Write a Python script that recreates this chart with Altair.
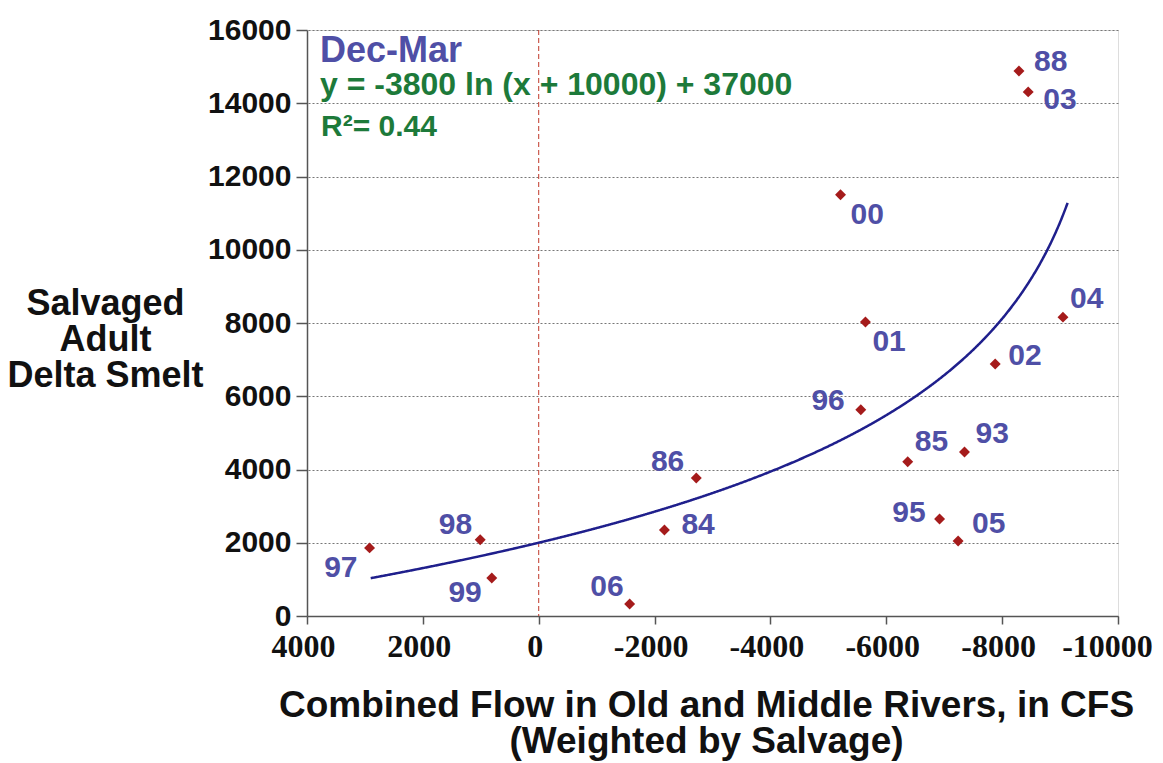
import altair as alt
import pandas as pd

# ---- data ----
years = ["88", "03", "00", "04", "01", "02", "96", "85", "93", "95", "05", "86", "84", "06", "98", "99", "97"]
flow = [-8290, -8450, -5210, -9050, -5640, -7880, -5560, -6370, -7350, -6920, -7240, -2720, -2170, -1570, 1010, 810, 2920]
salvage = [14880, 14310, 11500, 8160, 8030, 6880, 5630, 4210, 4480, 2650, 2050, 3770, 2350, 330, 2080, 1040, 1860]

# fitted curve shown on the chart: y = -3800 ln(x + 10000) + 37000
FIT_A = -3800
FIT_B = 10000
FIT_C = 37000
FIT_X_MIN = -9130
FIT_X_MAX = 2900

x_ticks = [4000, 2000, 0, -2000, -4000, -6000, -8000, -10000]
y_ticks = [0, 2000, 4000, 6000, 8000, 10000, 12000, 14000, 16000]

# label placement (pixel offsets from each point, alignment)
label_style = {
    "88": (15, -9, "left"), "03": (15, 8, "left"), "00": (10, 20, "left"),
    "04": (7, -18, "left"), "01": (7, 20, "left"), "02": (13, -8, "left"),
    "96": (-16, -9, "right"), "85": (7, -20, "left"), "93": (11, -18, "left"),
    "95": (-14, -6, "right"), "05": (14, -17, "left"), "86": (-12, -16, "right"),
    "84": (17, -5, "left"), "06": (-6, -17, "right"), "98": (-8, -15, "right"),
    "99": (-10, 15, "right"), "97": (-12, 20, "right"),
}

FONT = "Liberation Sans"
NARROW = "Liberation Sans Narrow"
LABEL_BLUE = "#4f4fa6"
GREEN = "#1d7a3a"
RED = "#a51b1b"
NAVY = "#1f1f8c"

df = pd.DataFrame({"year": years, "flow": flow, "salvage": salvage})

xscale = alt.Scale(domain=[-10000, 4000], reverse=True, nice=False, zero=False)
yscale = alt.Scale(domain=[0, 16000], nice=False)

xaxis = alt.Axis(
    values=x_ticks,
    labelExpr="datum.value < 0 ? '-' + format(-datum.value, 'd') : format(datum.value, 'd')",
    labelFont=NARROW, labelFontSize=32, labelFontWeight="bold",
    labelOffset={"condition": {"test": "datum.value < -9000", "value": -11}, "value": -4},
    labelColor="#111", labelPadding=7, tickSize=8, tickColor="#555", tickWidth=1.5,
    domainColor="#555", domainWidth=1.5, grid=False, labelFlush=False, labelOverlap=False,
    title=["Combined Flow in Old and Middle Rivers, in CFS", "(Weighted by Salvage)"],
    titleFont=FONT, titleFontSize=37, titleFontWeight="bold", titleColor="#111",
    titleLineHeight=36, titleBaseline="middle", titleY=89, titleX=399, titleAlign="center",
)
yaxis = alt.Axis(
    values=y_ticks, format="d", labelFont=FONT, labelFontSize=30, labelFontWeight="bold",
    labelColor="#111", labelPadding=5, tickSize=11, tickColor="#555", tickWidth=1.5,
    domainColor="#555", domainWidth=1.5, grid=True, gridColor="#777", gridDash=[2, 2],
    gridWidth=1, labelFlush=False,
    title=["Salvaged", "Adult", "Delta Smelt"], titleFont=FONT, titleFontSize=36,
    titleFontWeight="bold", titleColor="#111", titleAngle=0, titleAlign="center",
    titleBaseline="middle", titleLineHeight=36, titleX=-202, titleY=273,
)

base = alt.Chart(df)

points = base.mark_point(shape="diamond", filled=True, size=120, color=RED, opacity=1).encode(
    x=alt.X("flow:Q", scale=xscale, axis=xaxis),
    y=alt.Y("salvage:Q", scale=yscale, axis=yaxis),
)

zero_line = alt.Chart(pd.DataFrame({"z": [0]})).mark_rule(
    color="#c0392b", strokeDash=[5, 3], strokeWidth=1
).encode(x=alt.X("z:Q", scale=xscale))

curve = (
    alt.Chart(alt.sequence(FIT_X_MIN, FIT_X_MAX + 1, 10, as_="x"))
    .transform_calculate(y=f"{FIT_A} * log(datum.x + {FIT_B}) + {FIT_C}")
    .mark_line(color=NAVY, strokeWidth=2.5)
    .encode(x=alt.X("x:Q", scale=xscale), y=alt.Y("y:Q", scale=yscale), order="x:Q")
)

label_layers = []
for yr, (dx, dy, align) in label_style.items():
    label_layers.append(
        base.transform_filter(alt.datum.year == yr)
        .mark_text(font=FONT, fontSize=30, fontWeight="bold", color=LABEL_BLUE,
                   align=align, baseline="middle", dx=dx, dy=dy)
        .encode(x=alt.X("flow:Q", scale=xscale), y=alt.Y("salvage:Q", scale=yscale), text="year:N")
    )

ann1 = alt.Chart(pd.DataFrame({"t": ["Dec-Mar"]})).mark_text(
    font=FONT, fontSize=36, fontWeight="bold", color=LABEL_BLUE, align="left", baseline="middle"
).encode(x=alt.value(13), y=alt.value(21), text="t:N")
ann2 = alt.Chart(pd.DataFrame({"t": [f"y = {FIT_A} ln (x + {FIT_B}) + {FIT_C}"]})).mark_text(
    font=FONT, fontSize=32, fontWeight="bold", color=GREEN, align="left", baseline="middle"
).encode(x=alt.value(13), y=alt.value(55), text="t:N")
ann3 = alt.Chart(pd.DataFrame({"t": ["R²= 0.44"]})).mark_text(
    font=FONT, fontSize=30, fontWeight="bold", color=GREEN, align="left", baseline="middle"
).encode(x=alt.value(14), y=alt.value(97), text="t:N")

chart = (
    alt.layer(zero_line, curve, points, *label_layers, ann1, ann2, ann3)
    .properties(
        width=811, height=586,
        autosize=alt.AutoSizeParams(type="none"),
        padding={"left": 299, "top": 22, "right": 37, "bottom": 145},
    )
    .configure_view(stroke="#777", strokeWidth=1.5)
    .configure(background="white")
)

chart.save("out.html", embed_options={"renderer": "svg", "actions": False})
